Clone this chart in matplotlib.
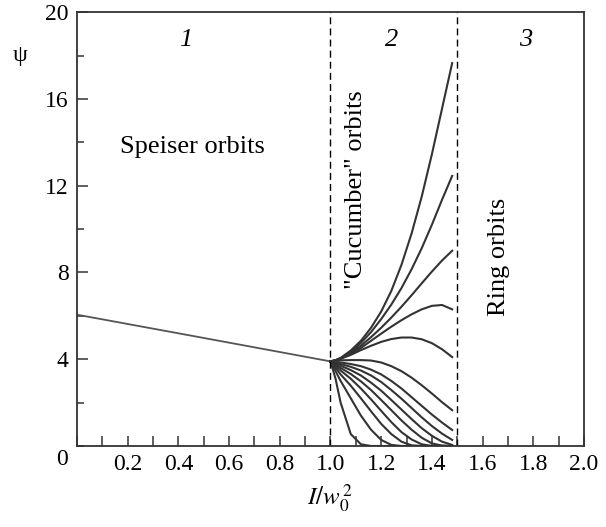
import matplotlib
matplotlib.use("Agg")
import matplotlib.pyplot as plt
from matplotlib.ticker import MultipleLocator

plt.rcParams['font.family'] = ['Liberation Serif', 'DejaVu Serif']
plt.rcParams['mathtext.fontset'] = 'stix'

# region 1: Speiser branch
speiser_x = [0.0, 0.025, 0.5, 1.0]
speiser_y = [6.05, 6.0, 4.98, 3.9]

# region 2: cucumber orbits, all curves sampled on the same x grid
cuc_x = [1.00, 1.02, 1.04, 1.08, 1.12, 1.16, 1.20, 1.24, 1.28, 1.32, 1.36, 1.40, 1.44, 1.48]
cuc_up = [
    [3.9, 3.95, 4.06, 4.40, 4.85, 5.45, 6.20, 7.15, 8.35, 9.80, 11.5, 13.45, 15.55, 17.65],
    [3.9, 3.95, 4.05, 4.35, 4.75, 5.25, 5.85, 6.52, 7.28, 8.15, 9.12, 10.2, 11.35, 12.45],
    [3.9, 3.95, 4.04, 4.30, 4.62, 5.02, 5.45, 5.92, 6.42, 6.95, 7.50, 8.04, 8.55, 9.00],
    [3.9, 3.95, 4.03, 4.25, 4.52, 4.85, 5.18, 5.50, 5.80, 6.07, 6.30, 6.46, 6.50, 6.30],
    [3.9, 3.95, 4.02, 4.20, 4.42, 4.62, 4.80, 4.93, 5.00, 5.00, 4.92, 4.74, 4.46, 4.10],
]
cuc_down = [
    [3.9, 3.93, 3.95, 3.96, 3.96, 3.94, 3.85, 3.68, 3.45, 3.15, 2.80, 2.42, 2.02, 1.65],
    [3.9, 3.88, 3.85, 3.78, 3.68, 3.52, 3.30, 3.00, 2.65, 2.25, 1.85, 1.45, 1.08, 0.74],
    [3.9, 3.85, 3.78, 3.65, 3.48, 3.25, 2.95, 2.58, 2.18, 1.75, 1.32, 0.92, 0.57, 0.28],
    [3.9, 3.80, 3.70, 3.50, 3.25, 2.92, 2.55, 2.12, 1.68, 1.24, 0.82, 0.47, 0.20, 0.05],
    [3.9, 3.75, 3.60, 3.32, 2.98, 2.58, 2.12, 1.65, 1.18, 0.75, 0.38, 0.12, 0.02, 0.0],
    [3.9, 3.70, 3.48, 3.10, 2.65, 2.15, 1.62, 1.10, 0.64, 0.30, 0.08, 0.0, 0.0, 0.0],
    [3.9, 3.60, 3.30, 2.78, 2.20, 1.60, 1.02, 0.55, 0.20, 0.03, 0.0, 0.0, 0.0, 0.0],
    [3.9, 3.45, 3.00, 2.20, 1.40, 0.75, 0.28, 0.05, 0.0, 0.0, 0.0, 0.0, 0.0, 0.0],
    [3.9, 3.10, 2.00, 0.55, 0.08, 0.0, 0.0, 0.0, 0.0, 0.0, 0.0, 0.0, 0.0, 0.0],
]

boundaries = [1.0, 1.5]
x_ticks = [0.2, 0.4, 0.6, 0.8, 1.0, 1.2, 1.4, 1.6, 1.8, 2.0]
y_ticks = [4, 8, 12, 16, 20]

fig = plt.figure(figsize=(6.06, 5.27), dpi=100)
ax = fig.add_axes([0.127, 0.1537, 0.8367, 0.8233])

line_col = '#333333'
ax.plot(speiser_x, speiser_y, color='#555555', lw=1.3)
for ys in cuc_up + cuc_down:
    ax.plot(cuc_x, ys, color=line_col, lw=1.5, solid_joinstyle='round')

for b in boundaries:
    ax.axvline(b, color='black', lw=1.0, ls=(0, (5, 3)))

ax.set_xlim(0, 2.0)
ax.set_ylim(0, 20)
ax.set_xticks(x_ticks)
ax.set_xticklabels([f"{t:.1f}" for t in x_ticks])
ax.xaxis.set_minor_locator(MultipleLocator(0.1))
ax.set_yticks(y_ticks)
ax.yaxis.set_minor_locator(MultipleLocator(2))

ax.tick_params(axis='both', which='both', direction='in', labelsize=17, color='#333333')
ax.tick_params(axis='x', which='both', length=7, width=1.1, pad=6)
ax.tick_params(axis='y', which='major', length=8, width=1.1, pad=6)
ax.tick_params(axis='y', which='minor', length=5, width=1.1)
for s in ax.spines.values():
    s.set_linewidth(1.3)
    s.set_color('#333333')

ax.text(-0.03, -0.032, '0', transform=ax.transAxes, ha='center', va='center', fontsize=17)
ax.text(-0.225, 18.0, 'ψ', ha='center', va='center', fontsize=17, clip_on=False)
ax.text(1.0, -2.4, r'$I/w_0^{\,2}$', ha='center', va='center', fontsize=18, clip_on=False)

for xr, lab in zip([0.43, 1.24, 1.77], ['1', '2', '3']):
    ax.text(xr, 18.7, lab, ha='center', va='center', fontsize=19, style='italic')

ax.text(0.17, 13.8, 'Speiser orbits', ha='left', va='center', fontsize=19)
ax.text(1.10, 11.8, '"Cucumber" orbits', ha='center', va='center', fontsize=19, rotation=90)
ax.text(1.665, 8.7, 'Ring orbits', ha='center', va='center', fontsize=19, rotation=90)

fig.savefig('out.png', dpi=100)
